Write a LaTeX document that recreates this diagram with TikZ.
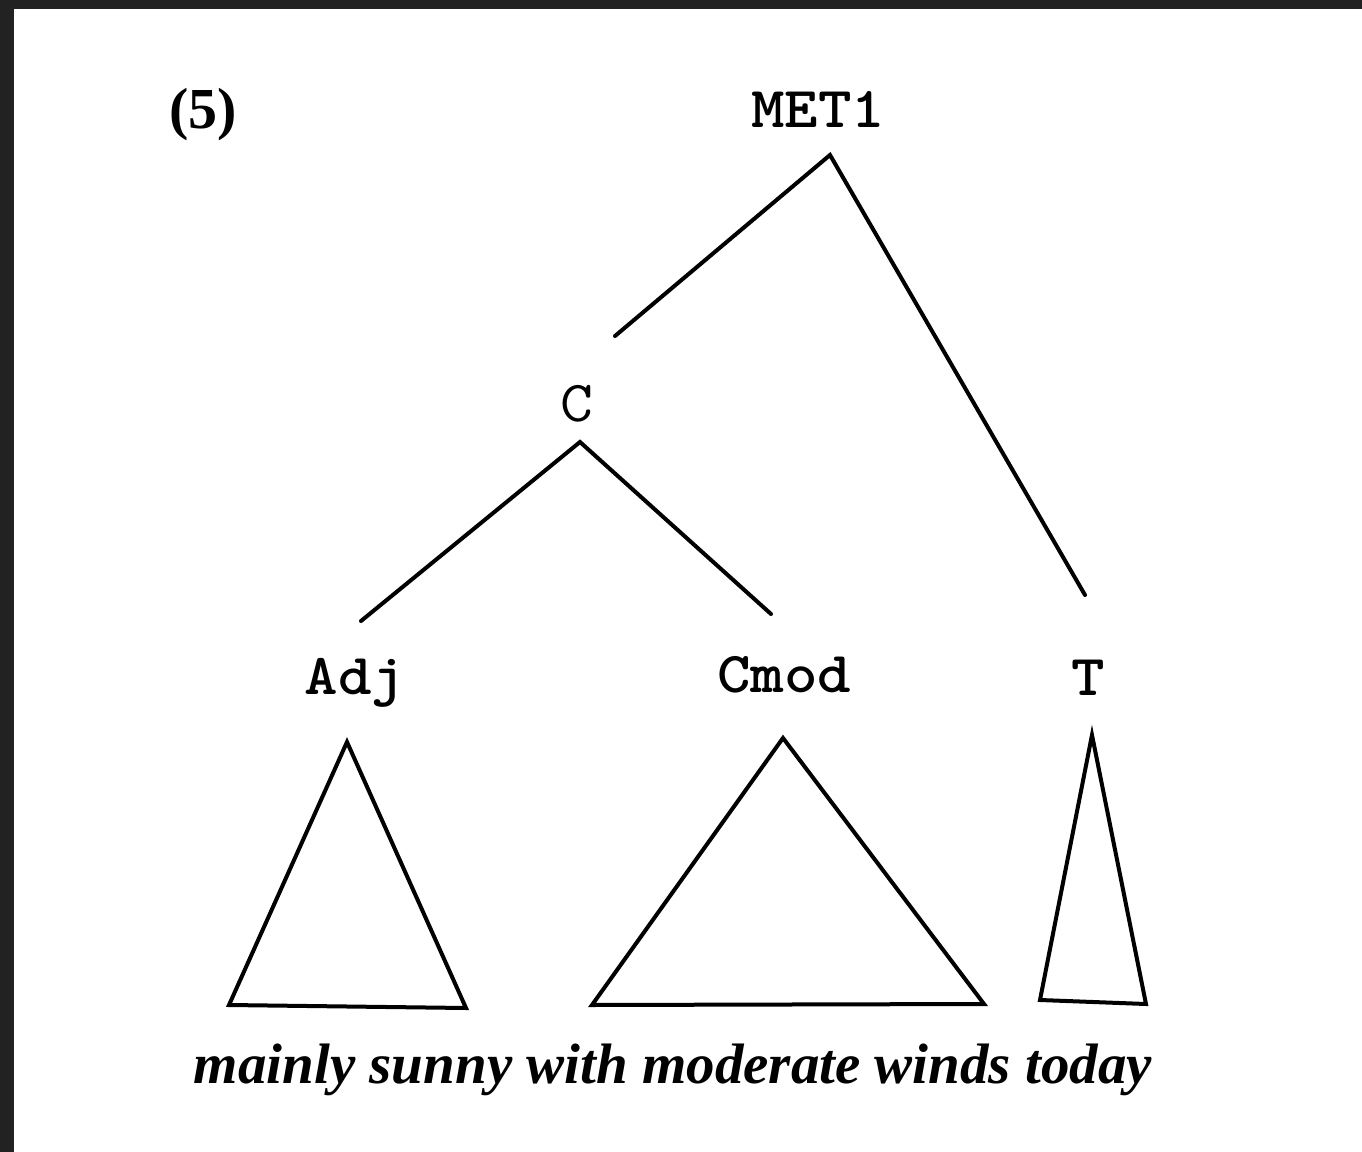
\documentclass[tikz,border=0pt]{standalone}
\usepackage{fontspec}
\setmainfont{Liberation Serif}
\newcommand{\widetext}[1]{\scalebox{1.1}[1]{#1}}
\begin{document}
\begin{tikzpicture}[x=0.5pt,y=-0.5pt,
  lbl/.style={font=\ttfamily\bfseries\fontsize{29}{31}\selectfont, anchor=base, inner sep=0pt},
  lblthin/.style={font=\ttfamily\fontsize{29}{31}\selectfont, anchor=base, inner sep=0pt},
  edge/.style={line width=2pt, line cap=round},
  tri/.style={line width=2pt, line join=miter}]
\useasboundingbox (0,0) rectangle (1362,1152);
\fill[fill={rgb,255:red,34;green,34;blue,34}] (0,0) rectangle (1362,9);
\fill[fill={rgb,255:red,34;green,34;blue,34}] (0,0) rectangle (14,1152);
% example number
\node[font=\bfseries\fontsize{29}{31}\selectfont, anchor=base, inner sep=0pt] (num) at (203,128) {(5)};
% labels
\node[lbl] (met) at (818,127) {\widetext{MET1}};
\node[lblthin] (c) at (577,421) {\widetext{C}};
\node[lbl] (adj) at (355,694) {\widetext{Adj}};
\node[lbl] (cmod) at (784,692) {\widetext{Cmod}};
\node[lbl] (t) at (1088,695) {\widetext{T}};
% edge endpoints
\coordinate (metA) at (830,155);
\coordinate (metL) at (615,336);
\coordinate (metR) at (1085,595);
\coordinate (cA) at (580,442);
\coordinate (cL) at (361,621);
\coordinate (cR) at (771,614);
\draw[edge] (metL) -- (metA) -- (metR);
\draw[edge] (cL) -- (cA) -- (cR);
% triangles
\coordinate (adjA) at (347,742);
\coordinate (adjL) at (229,1005);
\coordinate (adjR) at (466,1008);
\coordinate (cmodA) at (783,738);
\coordinate (cmodL) at (592,1005);
\coordinate (cmodR) at (984,1004);
\coordinate (tA) at (1092,735);
\coordinate (tL) at (1040,1000);
\coordinate (tR) at (1146,1004);
\draw[tri] (adjA) -- (adjL) -- (adjR) -- cycle;
\draw[tri] (cmodA) -- (cmodL) -- (cmodR) -- cycle;
\draw[tri] (tA) -- (tL) -- (tR) -- cycle;
% sentence
\node[font=\bfseries\itshape\fontsize{28.5}{30}\selectfont, anchor=base, inner sep=0pt] (sent) at (673,1083) {mainly sunny with moderate winds today};
\end{tikzpicture}
\end{document}
